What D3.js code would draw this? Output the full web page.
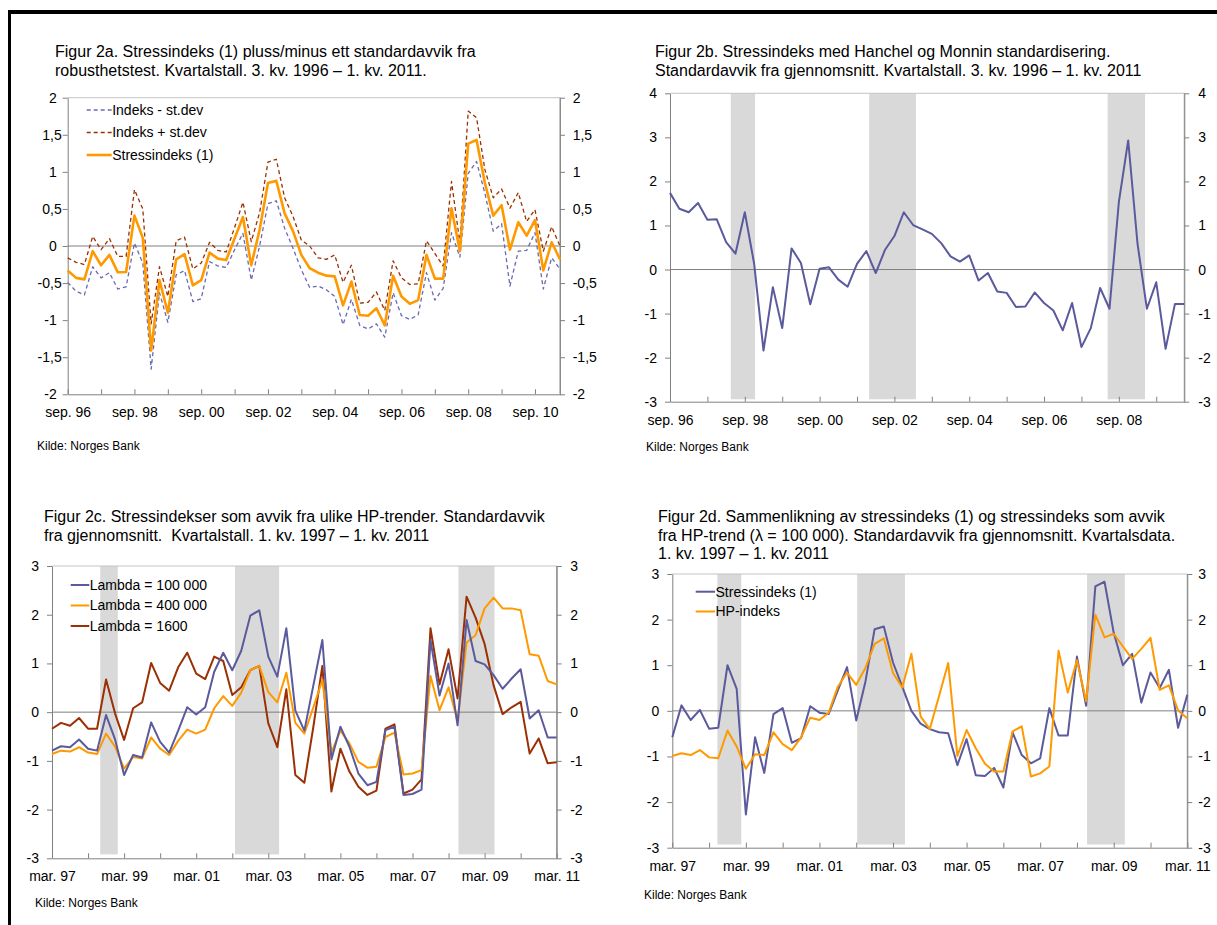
<!DOCTYPE html>
<html>
<head>
<meta charset="utf-8">
<script src="https://cdn.jsdelivr.net/npm/d3@7/dist/d3.min.js"></script>
<style>
  body { margin: 0; background: #fff; }
  svg text { font-family: 'Liberation Sans', Arial, sans-serif; fill: #000; }
</style>
</head>
<body>
<svg id="chart" width="1217" height="925"></svg>
<script>
// Figur 2a : 3. kv. 1996 - 2. kv. 2011, quarterly
const aStress = [-0.33, -0.43, -0.45, -0.07, -0.26, -0.12, -0.355, -0.35, 0.41, 0.11,
  -1.41, -0.46, -0.9, -0.18, -0.11, -0.53, -0.46, -0.09, -0.17, -0.19,
  0.1, 0.39, -0.26, 0.22, 0.85, 0.88, 0.44, 0.2, -0.12, -0.3,
  -0.36, -0.4, -0.41, -0.8, -0.48, -0.93, -0.94, -0.84, -1.07, -0.4,
  -0.68, -0.78, -0.73, -0.12, -0.44, -0.44, 0.51, -0.07, 1.38, 1.43,
  0.85, 0.41, 0.55, -0.05, 0.32, 0.14, 0.35, -0.33, 0.05, -0.18]
const aPlus = [-0.16, -0.22, -0.25, 0.13, -0.05, 0.1, -0.14, -0.14, 0.76, 0.5,
  -1.05, -0.28, -0.68, 0.07, 0.12, -0.31, -0.23, 0.05, -0.06, -0.08,
  0.25, 0.59, 0.06, 0.45, 1.13, 1.17, 0.65, 0.4, 0.08, 0.0,
  -0.16, -0.18, -0.12, -0.49, -0.26, -0.77, -0.76, -0.62, -0.87, -0.2,
  -0.43, -0.52, -0.51, 0.07, -0.1, -0.27, 0.87, 0.04, 1.82, 1.73,
  1.03, 0.65, 0.77, 0.51, 0.72, 0.33, 0.49, -0.07, 0.26, 0.0]
const aMinus = [-0.49, -0.61, -0.66, -0.28, -0.43, -0.36, -0.58, -0.55, 0.04, -0.23,
  -1.66, -0.63, -1.03, -0.39, -0.33, -0.75, -0.71, -0.21, -0.27, -0.29,
  -0.05, 0.17, -0.46, 0.0, 0.57, 0.61, 0.24, -0.03, -0.32, -0.56,
  -0.54, -0.59, -0.68, -1.06, -0.72, -1.07, -1.12, -1.05, -1.23, -0.63,
  -0.94, -0.99, -0.93, -0.36, -0.73, -0.57, 0.18, -0.15, 0.98, 1.14,
  0.71, 0.2, 0.3, -0.54, -0.07, -0.06, 0.18, -0.58, -0.16, -0.31]

// Figur 2b : 3. kv. 1996 onwards
const bIndex = [1.74, 1.38, 1.3, 1.51, 1.13, 1.14, 0.62, 0.36, 1.3, 0.13,
  -1.84, -0.4, -1.33, 0.48, 0.15, -0.79, 0.02, 0.05, -0.23, -0.39,
  0.13, 0.42, -0.08, 0.45, 0.76, 1.3, 1.01, 0.91, 0.81, 0.6,
  0.3, 0.18, 0.32, -0.25, -0.08, -0.5, -0.53, -0.85, -0.84, -0.52,
  -0.76, -0.93, -1.38, -0.76, -1.76, -1.33, -0.42, -0.89, 1.53, 2.93,
  0.58, -0.89, -0.29, -1.8, -0.78, -0.78]

// Figur 2c : 1. kv. 1997 - 1. kv. 2011
const cLambda100k = [-0.79, -0.7, -0.72, -0.56, -0.75, -0.79, -0.06, -0.56, -1.29, -0.88,
  -0.93, -0.21, -0.61, -0.83, -0.38, 0.1, -0.05, 0.1, 0.83, 1.22,
  0.86, 1.26, 1.98, 2.09, 1.14, 0.73, 1.72, 0.03, -0.38, 0.55,
  1.48, -0.97, -0.3, -0.71, -1.26, -1.5, -1.43, -0.37, -0.3, -1.7,
  -1.68, -1.59, 1.48, 0.34, 1.0, -0.27, 1.89, 1.05, 0.98, 0.76,
  0.48, 0.69, 0.88, -0.13, 0.04, -0.52, -0.52]
const cLambda400k = [-0.86, -0.79, -0.81, -0.72, -0.83, -0.86, -0.44, -0.71, -1.16, -0.92,
  -0.95, -0.52, -0.75, -0.88, -0.59, -0.36, -0.44, -0.36, 0.08, 0.33,
  0.13, 0.4, 0.86, 0.95, 0.41, 0.2, 0.81, -0.22, -0.44, 0.1,
  0.66, -0.83, -0.38, -0.64, -1.02, -1.14, -1.12, -0.51, -0.42, -1.28,
  -1.26, -1.19, 0.74, 0.04, 0.51, -0.18, 1.43, 1.58, 2.13, 2.35,
  2.13, 2.13, 2.09, 1.19, 1.16, 0.64, 0.57]
const cLambda1600 = [-0.34, -0.22, -0.28, -0.12, -0.34, -0.34, 0.67, -0.03, -0.57, 0.08,
  0.2, 1.01, 0.6, 0.44, 0.92, 1.22, 0.79, 0.68, 1.14, 1.05,
  0.35, 0.51, 0.86, 0.95, -0.23, -0.72, 0.47, -1.29, -1.45, -0.3,
  0.95, -1.63, -0.75, -1.22, -1.53, -1.7, -1.61, -0.34, -0.25, -1.67,
  -1.59, -1.38, 1.72, 0.57, 1.29, 0.28, 2.37, 1.94, 1.4, 0.55,
  -0.04, 0.1, 0.21, -0.85, -0.54, -1.05, -1.03]

// Figur 2d : 1. kv. 1997 - 1. kv. 2011
const dStress = [-0.58, 0.12, -0.2, 0.02, -0.39, -0.37, 1.0, 0.48, -2.27, -0.58,
  -1.36, -0.07, 0.06, -0.7, -0.6, 0.1, -0.04, -0.07, 0.45, 0.96,
  -0.21, 0.64, 1.79, 1.85, 1.06, 0.53, 0.0, -0.28, -0.4, -0.47,
  -0.49, -1.19, -0.62, -1.41, -1.43, -1.25, -1.68, -0.47, -0.97, -1.15,
  -1.04, 0.06, -0.54, -0.54, 1.19, 0.11, 2.73, 2.83, 1.71, 1.0,
  1.25, 0.18, 0.84, 0.5, 0.9, -0.37, 0.35]
const dHp = [-0.99, -0.93, -0.97, -0.86, -1.02, -1.04, -0.43, -0.78, -1.27, -0.95,
  -0.97, -0.47, -0.73, -0.86, -0.58, -0.15, -0.2, -0.04, 0.53, 0.84,
  0.57, 0.94, 1.47, 1.59, 0.83, 0.51, 1.25, -0.12, -0.4, 0.32,
  1.05, -0.99, -0.42, -0.82, -1.16, -1.33, -1.33, -0.45, -0.34, -1.44,
  -1.37, -1.22, 1.32, 0.4, 1.11, 0.21, 2.11, 1.61, 1.69, 1.41,
  1.14, 1.36, 1.6, 0.46, 0.56, 0.01, -0.16]

// Shaded stress periods, as [start, end] in quarter index of each chart
const bBands = [[6.5, 9.1], [21.3, 26.3], [46.8, 50.8]]
const cBands = [[5.35, 7.3], [20.3, 25.2], [45.1, 49.1]]
const dBands = [[4.9, 7.5], [20.1, 25.3], [45.1, 49.2]]

// Tick labels
const sepLabels = ['sep. 96', 'sep. 98', 'sep. 00', 'sep. 02', 'sep. 04', 'sep. 06', 'sep. 08', 'sep. 10']
const marLabels = ['mar. 97', 'mar. 99', 'mar. 01', 'mar. 03', 'mar. 05', 'mar. 07', 'mar. 09', 'mar. 11']
const aYTicks = [-2, -1.5, -1, -0.5, 0, 0.5, 1, 1.5, 2]
const bYTicks = [-3, -2, -1, 0, 1, 2, 3, 4]
const cdYTicks = [-3, -2, -1, 0, 1, 2, 3]

const BLUE = '#5a5a9c'
const ORANGE = '#ff9900'
const DARKRED = '#9a3004'

const svg = d3.select('#chart')

svg.append('rect').attr('width', 1217).attr('height', 925).attr('fill', '#fff')

// page frame (thick top rule and left rule)
svg.append('rect').attr('x', 8).attr('y', 10).attr('width', 1209).attr('height', 4).attr('fill', '#000')
svg.append('rect').attr('x', 8).attr('y', 10).attr('width', 3).attr('height', 915).attr('fill', '#000')

/**
 * Formats a tick value with a decimal comma.
 *
 * @param {number} d The value
 * @returns {string} The label
 */
function commaFormat (d) {
  return String(d).replace('.', ',')
}

/**
 * Draws one chart panel: bands, frame, axes, series, legend and texts.
 *
 * @param {object} p The panel settings
 */
function drawPanel (p) {
  const g = svg.append('g')
  const n = p.series[0].values.length
  const x = d3.scaleLinear().domain([0, n - 1]).range([p.left, p.right])
  const y = d3.scaleLinear().domain(p.yDomain).range([p.bottom, p.top])

  // shaded periods
  g.selectAll('rect.band')
    .data(p.bands || [])
    .enter()
    .append('rect')
    .attr('class', 'band')
    .attr('x', d => x(d[0]))
    .attr('width', d => x(d[1]) - x(d[0]))
    .attr('y', y(p.yDomain[1]))
    .attr('height', y(p.bandBottom) - y(p.yDomain[1]))
    .attr('fill', '#d9d9d9')

  // zero line
  g.append('line')
    .attr('x1', p.left).attr('x2', p.right)
    .attr('y1', y(0)).attr('y2', y(0))
    .attr('stroke', '#7f7f7f').attr('stroke-width', 1)

  // frame: light top, grey right
  g.append('line')
    .attr('x1', p.left).attr('x2', p.right)
    .attr('y1', p.top).attr('y2', p.top)
    .attr('stroke', '#c4c4c4')
  g.append('line')
    .attr('x1', p.right).attr('x2', p.right)
    .attr('y1', p.top).attr('y2', p.bottom)
    .attr('stroke', '#8c8c8c')

  // x axis, ticks every year pointing inwards, labels every second year
  const xTicks = d3.range(0, n, 4)
  const xAxis = d3.axisBottom(x)
    .tickValues(xTicks)
    .tickSizeInner(-5)
    .tickSizeOuter(0)
    .tickPadding(13)
    .tickFormat(d => (d % 8 === 0 ? p.xLabels[d / 8] : ''))
  const gx = g.append('g')
    .attr('transform', `translate(0,${p.bottom})`)
    .call(xAxis)

  // y axes on both sides
  const gyl = g.append('g')
    .attr('transform', `translate(${p.left},0)`)
    .call(d3.axisLeft(y).tickValues(p.yTicks).tickSizeInner(5).tickSizeOuter(0)
      .tickPadding(8).tickFormat(commaFormat))
  const gyr = g.append('g')
    .attr('transform', `translate(${p.right},0)`)
    .call(d3.axisRight(y).tickValues(p.yTicks).tickSizeInner(5).tickSizeOuter(0)
      .tickPadding(p.rightPad).tickFormat(commaFormat))

  if (p.decimalShift) {
    // whole numbers sit further from the axis than the decimal labels
    gyl.selectAll('.tick text')
      .attr('x', d => (Number.isInteger(d) ? -11 : -6))
  }

  ;[gx, gyl, gyr].forEach(a => {
    a.selectAll('.domain').attr('stroke', '#808080')
    a.selectAll('.tick line').attr('stroke', '#808080')
    a.selectAll('.tick text')
      .attr('font-size', 14)
      .attr('font-family', "'Liberation Sans', Arial, sans-serif")
      .attr('fill', '#000')
  })
  gyr.select('.domain').attr('stroke', '#8c8c8c')

  // series
  const line = d3.line()
    .x((d, i) => x(i))
    .y(d => y(d))

  p.series.forEach(s => {
    g.append('path')
      .datum(s.values)
      .attr('d', line)
      .attr('fill', 'none')
      .attr('stroke', s.color)
      .attr('stroke-width', s.width)
      .attr('stroke-dasharray', s.dash || null)
      .attr('stroke-linejoin', 'round')
  })

  // legend
  if (p.legend) {
    const lg = g.append('g')
    p.legend.items.forEach((s, k) => {
      const ly = p.legend.y + k * p.legend.step
      lg.append('line')
        .attr('x1', p.legend.x).attr('x2', p.legend.x + p.legend.len)
        .attr('y1', ly).attr('y2', ly)
        .attr('stroke', s.color)
        .attr('stroke-width', s.width)
        .attr('stroke-dasharray', s.dash || null)
      lg.append('text')
        .attr('x', p.legend.x + p.legend.len + 0.5)
        .attr('y', ly)
        .attr('dy', '0.35em')
        .attr('font-size', 14)
        .text(s.name)
    })
  }

  // title
  p.title.forEach((t, k) => {
    g.append('text')
      .attr('x', p.titleX)
      .attr('y', p.titleY + k * p.titleStep)
      .attr('font-size', 16)
      .style('white-space', 'pre')
      .text(t)
  })

  // source
  g.append('text')
    .attr('x', p.sourceX)
    .attr('y', p.sourceY)
    .attr('font-size', 12)
    .text('Kilde: Norges Bank')
}

const aSeries = [
  { name: 'Indeks - st.dev', values: aMinus, color: '#6a6ab4', width: 1.3, dash: '4,3' },
  { name: 'Indeks + st.dev', values: aPlus, color: '#9a3004', width: 1.3, dash: '4,3' },
  { name: 'Stressindeks (1)', values: aStress, color: ORANGE, width: 2.6 }
]

drawPanel({
  left: 67.7, right: 560, top: 97.7, bottom: 394.3,
  yDomain: [-2, 2], yTicks: aYTicks, xLabels: sepLabels,
  rightPad: 7.7, decimalShift: true,
  series: aSeries,
  legend: { x: 86.7, y: 110, step: 22.5, len: 25, items: aSeries },
  title: ['Figur 2a. Stressindeks (1) pluss/minus ett standardavvik fra',
    'robusthetstest. Kvartalstall. 3. kv. 1996 – 1. kv. 2011.'],
  titleX: 55, titleY: 57, titleStep: 19,
  sourceX: 37, sourceY: 450
})

drawPanel({
  left: 670, right: 1184.3, top: 93.3, bottom: 401.7,
  yDomain: [-3, 4], yTicks: bYTicks, xLabels: sepLabels,
  rightPad: 9,
  bands: bBands, bandBottom: -2.945,
  series: [{ values: bIndex, color: BLUE, width: 2 }],
  title: ['Figur 2b. Stressindeks med Hanchel og Monnin standardisering.',
    'Standardavvik fra gjennomsnitt. Kvartalstall. 3. kv. 1996 – 1. kv. 2011'],
  titleX: 655, titleY: 57, titleStep: 19,
  sourceX: 646, sourceY: 451
})

const cSeries = [
  { name: 'Lambda = 100 000', values: cLambda100k, color: BLUE, width: 2 },
  { name: 'Lambda = 400 000', values: cLambda400k, color: ORANGE, width: 2 },
  { name: 'Lambda = 1600', values: cLambda1600, color: DARKRED, width: 2 }
]

drawPanel({
  left: 52, right: 556.7, top: 566, bottom: 858.3,
  yDomain: [-3, 3], yTicks: cdYTicks, xLabels: marLabels,
  rightPad: 8.5,
  bands: cBands, bandBottom: -2.92,
  series: [cSeries[2], cSeries[1], cSeries[0]],
  legend: { x: 70.7, y: 585, step: 20.5, len: 18.6, items: cSeries },
  title: ['Figur 2c. Stressindekser som avvik fra ulike HP-trender. Standardavvik',
    'fra gjennomsnitt.  Kvartalstall. 1. kv. 1997 – 1. kv. 2011'],
  titleX: 44, titleY: 522, titleStep: 18.5,
  sourceX: 35, sourceY: 907
})

const dSeries = [
  { name: 'Stressindeks (1)', values: dStress, color: BLUE, width: 2 },
  { name: 'HP-indeks', values: dHp, color: ORANGE, width: 2 }
]

drawPanel({
  left: 672.3, right: 1187.3, top: 574, bottom: 847.7,
  yDomain: [-3, 3], yTicks: cdYTicks, xLabels: marLabels,
  rightPad: 6,
  bands: dBands, bandBottom: -2.93,
  series: dSeries,
  legend: { x: 695.7, y: 591.7, step: 19.8, len: 19.3, items: dSeries },
  title: ['Figur 2d. Sammenlikning av stressindeks (1) og stressindeks som avvik',
    'fra HP-trend (λ = 100 000). Standardavvik fra gjennomsnitt. Kvartalsdata.',
    '1. kv. 1997 – 1. kv. 2011'],
  titleX: 658, titleY: 522, titleStep: 18.5,
  sourceX: 644, sourceY: 899
})
</script>
</body>
</html>
